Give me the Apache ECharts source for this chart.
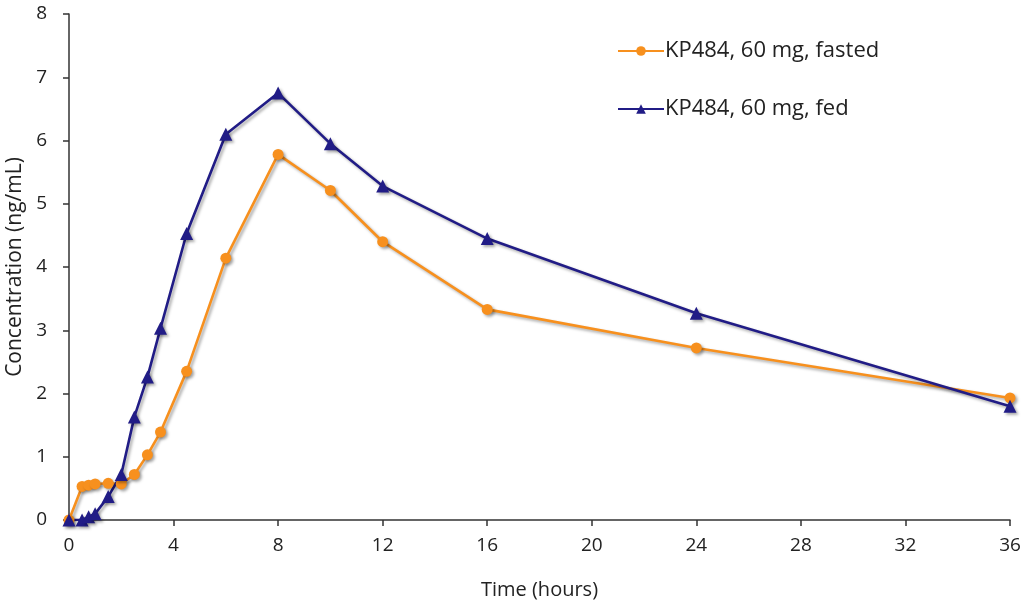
<!DOCTYPE html>
<html>
<head>
<meta charset="utf-8">
<script src="https://cdn.jsdelivr.net/npm/echarts@6/dist/echarts.min.js"></script>
<style>
  html, body { margin: 0; padding: 0; background: #fff; }
  #chart { width: 1024px; height: 608px; }
</style>
</head>
<body>
<div id="chart"></div>
<script>
// Sampling times (hours)
const times = [0, 0.5, 0.75, 1, 1.5, 2, 2.5, 3, 3.5, 4.5, 6, 8, 10, 12, 16, 24, 36];
// Mean plasma concentration (ng/mL)
const fasted = [0, 0.53, 0.55, 0.57, 0.58, 0.57, 0.72, 1.03, 1.39, 2.35, 4.14, 5.78, 5.21, 4.40, 3.33, 2.72, 1.93];
const fed    = [0, 0.0, 0.05, 0.1, 0.37, 0.72, 1.63, 2.26, 3.03, 4.53, 6.10, 6.75, 5.95, 5.28, 4.45, 3.27, 1.80];
const seriesNames = ['KP484, 60 mg, fasted', 'KP484, 60 mg, fed'];
const xTicks = { min: 0, max: 36, interval: 4 };
const yTicks = { min: 0, max: 8, interval: 1 };

const ORANGE = '#F7901E';
const NAVY = '#211C86';
const FONT = '"Open Sans", "Noto Sans", sans-serif';

const pairs = (ys) => times.map((t, i) => [t, ys[i]]);

const shadow = {
  shadowColor: 'rgba(0,0,0,0.35)',
  shadowBlur: 3,
  shadowOffsetX: 2,
  shadowOffsetY: 2
};

const chart = echarts.init(document.getElementById('chart'), null, { renderer: 'canvas' });
chart.setOption({
  animation: false,
  backgroundColor: '#ffffff',
  grid: { left: 69, right: 14, top: 14, bottom: 88, containLabel: false, outerBoundsMode: 'none' },
  legend: {
    orient: 'vertical',
    left: 612,
    top: 35,
    itemGap: 36,
    itemWidth: 46,
    itemHeight: 12,
    textStyle: { fontFamily: FONT, fontSize: 22, color: '#222', padding: [0, 0, 0, -4] },
    data: seriesNames
  },
  xAxis: {
    type: 'value',
    min: xTicks.min, max: xTicks.max, interval: xTicks.interval,
    name: 'Time (hours)',
    nameLocation: 'middle',
    nameGap: 60,
    nameTextStyle: { fontFamily: FONT, fontSize: 20, color: '#222' },
    axisLine: { show: true, lineStyle: { color: '#333', width: 1.5 } },
    axisTick: { show: true, length: 6, lineStyle: { color: '#333', width: 1.5 } },
    axisLabel: { fontFamily: FONT, fontSize: 19, color: '#222', margin: 16 },
    splitLine: { show: false }
  },
  yAxis: {
    type: 'value',
    min: yTicks.min, max: yTicks.max, interval: yTicks.interval,
    name: 'Concentration (ng/mL)',
    nameLocation: 'middle',
    nameGap: 43,
    nameTextStyle: { fontFamily: FONT, fontSize: 21, color: '#222' },
    axisLine: { show: true, lineStyle: { color: '#333', width: 1.5 } },
    axisTick: { show: true, length: 6, lineStyle: { color: '#333', width: 1.5 } },
    axisLabel: { fontFamily: FONT, fontSize: 19, color: '#222', margin: 22 },
    splitLine: { show: false }
  },
  series: [
    {
      name: seriesNames[0],
      type: 'line',
      data: pairs(fasted),
      symbol: 'circle',
      symbolSize: 11,
      color: ORANGE,
      lineStyle: Object.assign({ width: 2.6, color: ORANGE }, shadow),
      itemStyle: Object.assign({ color: ORANGE }, shadow)
    },
    {
      name: seriesNames[1],
      type: 'line',
      data: pairs(fed),
      symbol: 'triangle',
      symbolSize: 13,
      color: NAVY,
      lineStyle: Object.assign({ width: 2.6, color: NAVY }, shadow),
      itemStyle: Object.assign({ color: NAVY }, shadow)
    }
  ]
});
</script>
</body>
</html>
